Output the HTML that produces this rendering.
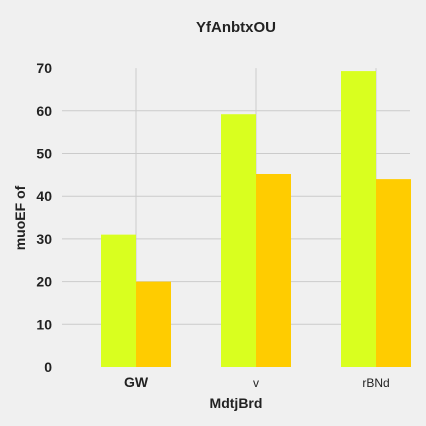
<!DOCTYPE html>
<html><head><meta charset="utf-8"><style>
body{margin:0;background:#f0f0f0;}
svg{display:block;font-family:"Liberation Sans",sans-serif;}
</style></head><body>
<svg width="426" height="426">
<rect width="426" height="426" fill="#f0f0f0"/>
<text x="236" y="32" text-anchor="middle" font-size="15" font-weight="bold" fill="#222">YfAnbtxOU</text>
<g id="grid"></g>
<g id="bars"></g>
<g id="ticks"></g>
<text x="236" y="408" text-anchor="middle" font-size="14" font-weight="bold" fill="#222">MdtjBrd</text>
<text transform="translate(25,218) rotate(-90)" text-anchor="middle" font-size="14" font-weight="bold" fill="#222">muoEF of</text>
</svg>
<script>
const categories=["GW","v","rBNd"];
const series1=[31,59.2,69.3];
const series2=[20,45.2,44];
const yTicks=[0,10,20,30,40,50,60,70];
const catWeights=["bold","normal","normal"];
const NS="http://www.w3.org/2000/svg";
const y0=367,pxPer=4.27;
function yS(v){return y0-v*pxPer;}
function xC(i){return 136+i*120;}
const bw=35;
function mk(t,a,p){const e=document.createElementNS(NS,t);for(const k in a)e.setAttribute(k,a[k]);p.appendChild(e);return e;}
const grid=document.getElementById('grid'),bars=document.getElementById('bars'),ticks=document.getElementById('ticks');
yTicks.forEach(v=>{
 if(v>0&&v<70){const l=mk('line',{x1:62,x2:410,y1:yS(v),y2:yS(v),stroke:'#cbcbcb','stroke-width':1},grid);
 
 }
 const t=mk('text',{x:52,y:yS(v)+5,'text-anchor':'end','font-size':14,'font-weight':'bold',fill:'#222'},ticks);
 t.textContent=v;
 
 
});
categories.forEach((c,i)=>{
 const l=mk('line',{x1:xC(i),x2:xC(i),y1:yS(70),y2:y0,stroke:'#cbcbcb','stroke-width':1},grid);
 
 
 const r1=mk('rect',{x:xC(i)-bw,y:yS(series1[i]),width:bw,height:y0-yS(series1[i]),fill:'#d9ff1f'},bars);
 
 
 const r2=mk('rect',{x:xC(i),y:yS(series2[i]),width:bw,height:y0-yS(series2[i]),fill:'#ffcc00'},bars);
 
 
 const t=mk('text',{x:xC(i),y:387,'text-anchor':'middle','font-size':i==0?14:12,'font-weight':catWeights[i],fill:'#222'},ticks);
 t.textContent=c;
 
 
});
</script>
</body></html>
